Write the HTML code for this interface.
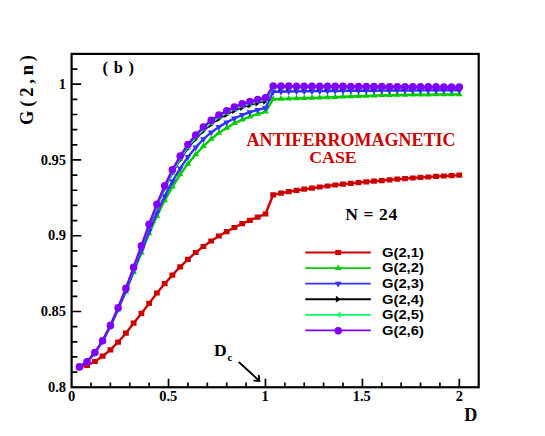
<!DOCTYPE html>
<html><head><meta charset="utf-8"><title>chart</title><style>html,body{margin:0;padding:0;background:#fff;font-family:"Liberation Sans",sans-serif;}svg{display:block;}</style></head><body>
<svg width="545" height="436" viewBox="0 0 545 436">
<rect x="0" y="0" width="545" height="436" fill="#fff"/>
<polyline points="79.4,367.2 87.1,365.4 94.9,361.5 102.6,356.2 110.4,349.9 118.1,342.2 125.9,333.2 133.6,323.2 141.4,313.4 149.1,303.4 156.9,293.0 164.7,283.7 172.4,275.1 180.2,266.8 187.9,259.4 195.7,252.5 203.4,246.5 211.2,241.0 218.9,236.0 226.7,231.6 234.4,227.5 242.2,223.7 249.9,220.4 257.7,217.1 265.5,214.0 273.2,194.8 281.0,193.1 288.7,191.7 296.5,190.4 304.2,189.2 312.0,188.2 319.7,187.0 327.5,186.0 335.2,185.0 343.0,184.2 350.8,183.4 358.5,182.6 366.3,181.8 374.0,181.2 381.8,180.6 389.5,179.8 397.3,179.2 405.0,178.6 412.8,178.0 420.5,177.4 428.3,177.0 436.1,176.4 443.8,176.0 451.6,175.6 459.3,175.2" fill="none" stroke="#cc0000" stroke-width="2.4" stroke-linejoin="round"/>
<path fill="#cc0000" d="M76.5,364.6h5.8v5.2h-5.8zM84.2,362.8h5.8v5.2h-5.8zM92.0,358.9h5.8v5.2h-5.8zM99.7,353.6h5.8v5.2h-5.8zM107.5,347.3h5.8v5.2h-5.8zM115.2,339.6h5.8v5.2h-5.8zM123.0,330.6h5.8v5.2h-5.8zM130.7,320.6h5.8v5.2h-5.8zM138.5,310.8h5.8v5.2h-5.8zM146.2,300.8h5.8v5.2h-5.8zM154.0,290.4h5.8v5.2h-5.8zM161.8,281.1h5.8v5.2h-5.8zM169.5,272.5h5.8v5.2h-5.8zM177.3,264.2h5.8v5.2h-5.8zM185.0,256.8h5.8v5.2h-5.8zM192.8,249.9h5.8v5.2h-5.8zM200.5,243.9h5.8v5.2h-5.8zM208.3,238.4h5.8v5.2h-5.8zM216.0,233.4h5.8v5.2h-5.8zM223.8,229.0h5.8v5.2h-5.8zM231.5,224.9h5.8v5.2h-5.8zM239.3,221.1h5.8v5.2h-5.8zM247.0,217.8h5.8v5.2h-5.8zM254.8,214.5h5.8v5.2h-5.8zM262.6,211.4h5.8v5.2h-5.8zM270.3,192.2h5.8v5.2h-5.8zM278.1,190.5h5.8v5.2h-5.8zM285.8,189.1h5.8v5.2h-5.8zM293.6,187.8h5.8v5.2h-5.8zM301.3,186.6h5.8v5.2h-5.8zM309.1,185.6h5.8v5.2h-5.8zM316.8,184.4h5.8v5.2h-5.8zM324.6,183.4h5.8v5.2h-5.8zM332.3,182.4h5.8v5.2h-5.8zM340.1,181.6h5.8v5.2h-5.8zM347.9,180.8h5.8v5.2h-5.8zM355.6,180.0h5.8v5.2h-5.8zM363.4,179.2h5.8v5.2h-5.8zM371.1,178.6h5.8v5.2h-5.8zM378.9,178.0h5.8v5.2h-5.8zM386.6,177.2h5.8v5.2h-5.8zM394.4,176.6h5.8v5.2h-5.8zM402.1,176.0h5.8v5.2h-5.8zM409.9,175.4h5.8v5.2h-5.8zM417.6,174.8h5.8v5.2h-5.8zM425.4,174.4h5.8v5.2h-5.8zM433.2,173.8h5.8v5.2h-5.8zM440.9,173.4h5.8v5.2h-5.8zM448.7,173.0h5.8v5.2h-5.8zM456.4,172.6h5.8v5.2h-5.8z"/>
<polyline points="79.4,366.9 87.1,361.8 94.9,352.6 102.6,341.2 110.4,326.4 118.1,309.8 125.9,291.8 133.6,272.1 141.4,252.8 149.1,233.5 156.9,216.2 164.7,200.3 172.4,186.8 180.2,174.5 187.9,163.8 195.7,154.5 203.4,146.2 211.2,139.0 218.9,132.8 226.7,127.9 234.4,123.3 242.2,119.6 249.9,116.6 257.7,114.0 265.5,111.8 273.2,99.1 281.0,98.9 288.7,98.6 296.5,98.4 304.2,98.2 312.0,97.9 319.7,97.7 327.5,97.4 335.2,97.1 343.0,96.8 350.8,96.5 358.5,96.2 366.3,95.9 374.0,95.6 381.8,95.3 389.5,95.2 397.3,95.0 405.0,94.9 412.8,94.8 420.5,94.7 428.3,94.6 436.1,94.5 443.8,94.5 451.6,94.5 459.3,94.4" fill="none" stroke="#00cc00" stroke-width="2.4" stroke-linejoin="round"/>
<path fill="#00cc00" d="M76.0,368.8h6.8l-3.4,-5.4zM83.7,363.6h6.8l-3.4,-5.4zM91.5,354.4h6.8l-3.4,-5.4zM99.2,343.0h6.8l-3.4,-5.4zM107.0,328.2h6.8l-3.4,-5.4zM114.7,311.6h6.8l-3.4,-5.4zM122.5,293.6h6.8l-3.4,-5.4zM130.2,273.9h6.8l-3.4,-5.4zM138.0,254.6h6.8l-3.4,-5.4zM145.7,235.3h6.8l-3.4,-5.4zM153.5,218.1h6.8l-3.4,-5.4zM161.3,202.2h6.8l-3.4,-5.4zM169.0,188.6h6.8l-3.4,-5.4zM176.8,176.3h6.8l-3.4,-5.4zM184.5,165.7h6.8l-3.4,-5.4zM192.3,156.3h6.8l-3.4,-5.4zM200.0,148.0h6.8l-3.4,-5.4zM207.8,140.8h6.8l-3.4,-5.4zM215.5,134.7h6.8l-3.4,-5.4zM223.3,129.7h6.8l-3.4,-5.4zM231.0,125.1h6.8l-3.4,-5.4zM238.8,121.4h6.8l-3.4,-5.4zM246.5,118.4h6.8l-3.4,-5.4zM254.3,115.8h6.8l-3.4,-5.4zM262.1,113.5h6.8l-3.4,-5.4zM269.8,100.9h6.8l-3.4,-5.4zM277.6,100.7h6.8l-3.4,-5.4zM285.3,100.4h6.8l-3.4,-5.4zM293.1,100.2h6.8l-3.4,-5.4zM300.8,100.0h6.8l-3.4,-5.4zM308.6,99.7h6.8l-3.4,-5.4zM316.3,99.5h6.8l-3.4,-5.4zM324.1,99.2h6.8l-3.4,-5.4zM331.8,98.9h6.8l-3.4,-5.4zM339.6,98.6h6.8l-3.4,-5.4zM347.4,98.3h6.8l-3.4,-5.4zM355.1,98.0h6.8l-3.4,-5.4zM362.9,97.7h6.8l-3.4,-5.4zM370.6,97.4h6.8l-3.4,-5.4zM378.4,97.1h6.8l-3.4,-5.4zM386.1,97.0h6.8l-3.4,-5.4zM393.9,96.8h6.8l-3.4,-5.4zM401.6,96.7h6.8l-3.4,-5.4zM409.4,96.6h6.8l-3.4,-5.4zM417.1,96.5h6.8l-3.4,-5.4zM424.9,96.4h6.8l-3.4,-5.4zM432.7,96.3h6.8l-3.4,-5.4zM440.4,96.3h6.8l-3.4,-5.4zM448.2,96.2h6.8l-3.4,-5.4zM455.9,96.2h6.8l-3.4,-5.4z"/>
<polyline points="79.4,366.9 87.1,361.8 94.9,352.6 102.6,341.0 110.4,326.1 118.1,309.1 125.9,290.8 133.6,270.8 141.4,250.8 149.1,231.2 156.9,213.0 164.7,196.2 172.4,181.4 180.2,168.3 187.9,156.9 195.7,147.4 203.4,139.2 211.2,132.4 218.9,126.9 226.7,122.4 234.4,118.4 242.2,115.0 249.9,112.2 257.7,109.9 265.5,108.0 273.2,91.8 281.0,91.7 288.7,91.5 296.5,91.4 304.2,91.3 312.0,91.2 319.7,91.1 327.5,91.0 335.2,91.0 343.0,90.9 350.8,90.8 358.5,90.8 366.3,90.7 374.0,90.7 381.8,90.6 389.5,90.6 397.3,90.5 405.0,90.5 412.8,90.5 420.5,90.4 428.3,90.4 436.1,90.4 443.8,90.3 451.6,90.3 459.3,90.3" fill="none" stroke="#3333ff" stroke-width="2.4" stroke-linejoin="round"/>
<path fill="#3333ff" d="M76.0,365.1h6.8l-3.4,5.7zM83.7,359.9h6.8l-3.4,5.7zM91.5,350.7h6.8l-3.4,5.7zM99.2,339.1h6.8l-3.4,5.7zM107.0,324.2h6.8l-3.4,5.7zM114.7,307.2h6.8l-3.4,5.7zM122.5,288.9h6.8l-3.4,5.7zM130.2,268.9h6.8l-3.4,5.7zM138.0,248.8h6.8l-3.4,5.7zM145.7,229.2h6.8l-3.4,5.7zM153.5,211.1h6.8l-3.4,5.7zM161.3,194.2h6.8l-3.4,5.7zM169.0,179.5h6.8l-3.4,5.7zM176.8,166.4h6.8l-3.4,5.7zM184.5,155.0h6.8l-3.4,5.7zM192.3,145.5h6.8l-3.4,5.7zM200.0,137.3h6.8l-3.4,5.7zM207.8,130.5h6.8l-3.4,5.7zM215.5,125.0h6.8l-3.4,5.7zM223.3,120.5h6.8l-3.4,5.7zM231.0,116.5h6.8l-3.4,5.7zM238.8,113.0h6.8l-3.4,5.7zM246.5,110.3h6.8l-3.4,5.7zM254.3,108.0h6.8l-3.4,5.7zM262.1,106.0h6.8l-3.4,5.7zM269.8,89.9h6.8l-3.4,5.7zM277.6,89.8h6.8l-3.4,5.7zM285.3,89.6h6.8l-3.4,5.7zM293.1,89.5h6.8l-3.4,5.7zM300.8,89.4h6.8l-3.4,5.7zM308.6,89.3h6.8l-3.4,5.7zM316.3,89.2h6.8l-3.4,5.7zM324.1,89.1h6.8l-3.4,5.7zM331.8,89.1h6.8l-3.4,5.7zM339.6,89.0h6.8l-3.4,5.7zM347.4,88.9h6.8l-3.4,5.7zM355.1,88.9h6.8l-3.4,5.7zM362.9,88.8h6.8l-3.4,5.7zM370.6,88.8h6.8l-3.4,5.7zM378.4,88.7h6.8l-3.4,5.7zM386.1,88.7h6.8l-3.4,5.7zM393.9,88.6h6.8l-3.4,5.7zM401.6,88.6h6.8l-3.4,5.7zM409.4,88.6h6.8l-3.4,5.7zM417.1,88.5h6.8l-3.4,5.7zM424.9,88.5h6.8l-3.4,5.7zM432.7,88.5h6.8l-3.4,5.7zM440.4,88.4h6.8l-3.4,5.7zM448.2,88.4h6.8l-3.4,5.7zM455.9,88.4h6.8l-3.4,5.7z"/>
<polyline points="79.4,366.9 87.1,361.8 94.9,352.6 102.6,341.0 110.4,325.7 118.1,308.2 125.9,289.2 133.6,268.5 141.4,247.4 149.1,226.5 156.9,207.0 164.7,189.0 172.4,173.3 180.2,159.9 187.9,148.5 195.7,139.3 203.4,131.2 211.2,124.5 218.9,118.9 226.7,114.5 234.4,110.7 242.2,107.5 249.9,105.2 257.7,103.0 265.5,101.3 273.2,87.5 281.0,87.5 288.7,87.5 296.5,87.5 304.2,87.5 312.0,87.5 319.7,87.5 327.5,87.6 335.2,87.6 343.0,87.6 350.8,87.6 358.5,87.6 366.3,87.7 374.0,87.7 381.8,87.7 389.5,87.7 397.3,87.7 405.0,87.7 412.8,87.8 420.5,87.8 428.3,87.8 436.1,87.8 443.8,87.8 451.6,87.8 459.3,87.9" fill="none" stroke="#000000" stroke-width="1.5" stroke-linejoin="round"/>
<path fill="#000000" d="M77.1,363.6v6.8l5.1,-3.4zM84.8,358.4v6.8l5.1,-3.4zM92.6,349.2v6.8l5.1,-3.4zM100.3,337.6v6.8l5.1,-3.4zM108.1,322.3v6.8l5.1,-3.4zM115.8,304.8v6.8l5.1,-3.4zM123.6,285.8v6.8l5.1,-3.4zM131.3,265.1v6.8l5.1,-3.4zM139.1,244.0v6.8l5.1,-3.4zM146.8,223.1v6.8l5.1,-3.4zM154.6,203.6v6.8l5.1,-3.4zM162.4,185.6v6.8l5.1,-3.4zM170.1,169.9v6.8l5.1,-3.4zM177.9,156.5v6.8l5.1,-3.4zM185.6,145.1v6.8l5.1,-3.4zM193.4,135.9v6.8l5.1,-3.4zM201.1,127.8v6.8l5.1,-3.4zM208.9,121.1v6.8l5.1,-3.4zM216.6,115.5v6.8l5.1,-3.4zM224.4,111.1v6.8l5.1,-3.4zM232.1,107.3v6.8l5.1,-3.4zM239.9,104.1v6.8l5.1,-3.4zM247.6,101.8v6.8l5.1,-3.4zM255.4,99.6v6.8l5.1,-3.4zM263.2,97.9v6.8l5.1,-3.4zM270.9,84.0v6.8l5.1,-3.4zM278.7,84.1v6.8l5.1,-3.4zM286.4,84.1v6.8l5.1,-3.4zM294.2,84.1v6.8l5.1,-3.4zM301.9,84.1v6.8l5.1,-3.4zM309.7,84.1v6.8l5.1,-3.4zM317.4,84.1v6.8l5.1,-3.4zM325.2,84.2v6.8l5.1,-3.4zM332.9,84.2v6.8l5.1,-3.4zM340.7,84.2v6.8l5.1,-3.4zM348.5,84.2v6.8l5.1,-3.4zM356.2,84.2v6.8l5.1,-3.4zM364.0,84.2v6.8l5.1,-3.4zM371.7,84.3v6.8l5.1,-3.4zM379.5,84.3v6.8l5.1,-3.4zM387.2,84.3v6.8l5.1,-3.4zM395.0,84.3v6.8l5.1,-3.4zM402.7,84.3v6.8l5.1,-3.4zM410.5,84.3v6.8l5.1,-3.4zM418.2,84.4v6.8l5.1,-3.4zM426.0,84.4v6.8l5.1,-3.4zM433.8,84.4v6.8l5.1,-3.4zM441.5,84.4v6.8l5.1,-3.4zM449.3,84.4v6.8l5.1,-3.4zM457.0,84.5v6.8l5.1,-3.4z"/>
<polyline points="79.4,366.9 87.1,361.8 94.9,352.6 102.6,340.8 110.4,325.6 118.1,307.9 125.9,288.8 133.6,267.9 141.4,246.6 149.1,225.3 156.9,205.7 164.7,187.3 172.4,171.7 180.2,158.1 187.9,146.7 195.7,137.3 203.4,129.2 211.2,122.6 218.9,117.0 226.7,112.8 234.4,109.0 242.2,105.9 249.9,103.5 257.7,101.4 265.5,99.7 273.2,86.8 281.0,86.8 288.7,86.8 296.5,86.8 304.2,86.9 312.0,86.9 319.7,86.9 327.5,87.0 335.2,87.0 343.0,87.0 350.8,87.0 358.5,87.1 366.3,87.1 374.0,87.1 381.8,87.2 389.5,87.2 397.3,87.2 405.0,87.2 412.8,87.3 420.5,87.3 428.3,87.3 436.1,87.4 443.8,87.4 451.6,87.4 459.3,87.5" fill="none" stroke="#00ff66" stroke-width="2.4" stroke-linejoin="round"/>
<path fill="#00ff66" d="M81.8,363.8v6.4l-4.9,-3.2zM89.5,358.6v6.4l-4.9,-3.2zM97.3,349.4v6.4l-4.9,-3.2zM105.0,337.6v6.4l-4.9,-3.2zM112.8,322.4v6.4l-4.9,-3.2zM120.5,304.8v6.4l-4.9,-3.2zM128.3,285.6v6.4l-4.9,-3.2zM136.0,264.8v6.4l-4.9,-3.2zM143.8,243.4v6.4l-4.9,-3.2zM151.5,222.2v6.4l-4.9,-3.2zM159.3,202.5v6.4l-4.9,-3.2zM167.1,184.2v6.4l-4.9,-3.2zM174.8,168.5v6.4l-4.9,-3.2zM182.6,154.9v6.4l-4.9,-3.2zM190.3,143.5v6.4l-4.9,-3.2zM198.1,134.1v6.4l-4.9,-3.2zM205.8,126.0v6.4l-4.9,-3.2zM213.6,119.4v6.4l-4.9,-3.2zM221.3,113.8v6.4l-4.9,-3.2zM229.1,109.5v6.4l-4.9,-3.2zM236.8,105.8v6.4l-4.9,-3.2zM244.6,102.7v6.4l-4.9,-3.2zM252.3,100.2v6.4l-4.9,-3.2zM260.1,98.2v6.4l-4.9,-3.2zM267.9,96.5v6.4l-4.9,-3.2zM275.6,83.5v6.4l-4.9,-3.2zM283.4,83.6v6.4l-4.9,-3.2zM291.1,83.6v6.4l-4.9,-3.2zM298.9,83.6v6.4l-4.9,-3.2zM306.6,83.7v6.4l-4.9,-3.2zM314.4,83.7v6.4l-4.9,-3.2zM322.1,83.7v6.4l-4.9,-3.2zM329.9,83.8v6.4l-4.9,-3.2zM337.6,83.8v6.4l-4.9,-3.2zM345.4,83.8v6.4l-4.9,-3.2zM353.2,83.8v6.4l-4.9,-3.2zM360.9,83.9v6.4l-4.9,-3.2zM368.7,83.9v6.4l-4.9,-3.2zM376.4,83.9v6.4l-4.9,-3.2zM384.2,84.0v6.4l-4.9,-3.2zM391.9,84.0v6.4l-4.9,-3.2zM399.7,84.0v6.4l-4.9,-3.2zM407.4,84.0v6.4l-4.9,-3.2zM415.2,84.1v6.4l-4.9,-3.2zM422.9,84.1v6.4l-4.9,-3.2zM430.7,84.1v6.4l-4.9,-3.2zM438.5,84.2v6.4l-4.9,-3.2zM446.2,84.2v6.4l-4.9,-3.2zM454.0,84.2v6.4l-4.9,-3.2zM461.7,84.2v6.4l-4.9,-3.2z"/>
<polyline points="79.4,366.9 87.1,361.8 94.9,352.6 102.6,340.8 110.4,325.4 118.1,307.8 125.9,288.4 133.6,267.3 141.4,245.8 149.1,224.3 156.9,204.3 164.7,185.8 172.4,169.8 180.2,156.0 187.9,144.5 195.7,135.1 203.4,127.0 211.2,120.4 218.9,115.0 226.7,110.7 234.4,107.0 242.2,103.9 249.9,101.5 257.7,99.5 265.5,97.8 273.2,86.0 281.0,86.1 288.7,86.1 296.5,86.2 304.2,86.2 312.0,86.3 319.7,86.3 327.5,86.3 335.2,86.4 343.0,86.4 350.8,86.5 358.5,86.5 366.3,86.5 374.0,86.6 381.8,86.6 389.5,86.7 397.3,86.7 405.0,86.8 412.8,86.8 420.5,86.8 428.3,86.9 436.1,86.9 443.8,87.0 451.6,87.0 459.3,87.0" fill="none" stroke="#8000ff" stroke-width="2.4" stroke-linejoin="round"/>
<path fill="#8000ff" d="M75.6,366.9a3.8,3.8 0 1,0 7.6,0a3.8,3.8 0 1,0 -7.6,0zM83.3,361.8a3.8,3.8 0 1,0 7.6,0a3.8,3.8 0 1,0 -7.6,0zM91.1,352.6a3.8,3.8 0 1,0 7.6,0a3.8,3.8 0 1,0 -7.6,0zM98.8,340.8a3.8,3.8 0 1,0 7.6,0a3.8,3.8 0 1,0 -7.6,0zM106.6,325.4a3.8,3.8 0 1,0 7.6,0a3.8,3.8 0 1,0 -7.6,0zM114.3,307.8a3.8,3.8 0 1,0 7.6,0a3.8,3.8 0 1,0 -7.6,0zM122.1,288.4a3.8,3.8 0 1,0 7.6,0a3.8,3.8 0 1,0 -7.6,0zM129.8,267.3a3.8,3.8 0 1,0 7.6,0a3.8,3.8 0 1,0 -7.6,0zM137.6,245.8a3.8,3.8 0 1,0 7.6,0a3.8,3.8 0 1,0 -7.6,0zM145.3,224.3a3.8,3.8 0 1,0 7.6,0a3.8,3.8 0 1,0 -7.6,0zM153.1,204.3a3.8,3.8 0 1,0 7.6,0a3.8,3.8 0 1,0 -7.6,0zM160.9,185.8a3.8,3.8 0 1,0 7.6,0a3.8,3.8 0 1,0 -7.6,0zM168.6,169.8a3.8,3.8 0 1,0 7.6,0a3.8,3.8 0 1,0 -7.6,0zM176.4,156.0a3.8,3.8 0 1,0 7.6,0a3.8,3.8 0 1,0 -7.6,0zM184.1,144.5a3.8,3.8 0 1,0 7.6,0a3.8,3.8 0 1,0 -7.6,0zM191.9,135.1a3.8,3.8 0 1,0 7.6,0a3.8,3.8 0 1,0 -7.6,0zM199.6,127.0a3.8,3.8 0 1,0 7.6,0a3.8,3.8 0 1,0 -7.6,0zM207.4,120.4a3.8,3.8 0 1,0 7.6,0a3.8,3.8 0 1,0 -7.6,0zM215.1,115.0a3.8,3.8 0 1,0 7.6,0a3.8,3.8 0 1,0 -7.6,0zM222.9,110.7a3.8,3.8 0 1,0 7.6,0a3.8,3.8 0 1,0 -7.6,0zM230.6,107.0a3.8,3.8 0 1,0 7.6,0a3.8,3.8 0 1,0 -7.6,0zM238.4,103.9a3.8,3.8 0 1,0 7.6,0a3.8,3.8 0 1,0 -7.6,0zM246.1,101.5a3.8,3.8 0 1,0 7.6,0a3.8,3.8 0 1,0 -7.6,0zM253.9,99.5a3.8,3.8 0 1,0 7.6,0a3.8,3.8 0 1,0 -7.6,0zM261.7,97.8a3.8,3.8 0 1,0 7.6,0a3.8,3.8 0 1,0 -7.6,0zM269.4,86.0a3.8,3.8 0 1,0 7.6,0a3.8,3.8 0 1,0 -7.6,0zM277.2,86.1a3.8,3.8 0 1,0 7.6,0a3.8,3.8 0 1,0 -7.6,0zM284.9,86.1a3.8,3.8 0 1,0 7.6,0a3.8,3.8 0 1,0 -7.6,0zM292.7,86.2a3.8,3.8 0 1,0 7.6,0a3.8,3.8 0 1,0 -7.6,0zM300.4,86.2a3.8,3.8 0 1,0 7.6,0a3.8,3.8 0 1,0 -7.6,0zM308.2,86.3a3.8,3.8 0 1,0 7.6,0a3.8,3.8 0 1,0 -7.6,0zM315.9,86.3a3.8,3.8 0 1,0 7.6,0a3.8,3.8 0 1,0 -7.6,0zM323.7,86.3a3.8,3.8 0 1,0 7.6,0a3.8,3.8 0 1,0 -7.6,0zM331.4,86.4a3.8,3.8 0 1,0 7.6,0a3.8,3.8 0 1,0 -7.6,0zM339.2,86.4a3.8,3.8 0 1,0 7.6,0a3.8,3.8 0 1,0 -7.6,0zM347.0,86.5a3.8,3.8 0 1,0 7.6,0a3.8,3.8 0 1,0 -7.6,0zM354.7,86.5a3.8,3.8 0 1,0 7.6,0a3.8,3.8 0 1,0 -7.6,0zM362.5,86.5a3.8,3.8 0 1,0 7.6,0a3.8,3.8 0 1,0 -7.6,0zM370.2,86.6a3.8,3.8 0 1,0 7.6,0a3.8,3.8 0 1,0 -7.6,0zM378.0,86.6a3.8,3.8 0 1,0 7.6,0a3.8,3.8 0 1,0 -7.6,0zM385.7,86.7a3.8,3.8 0 1,0 7.6,0a3.8,3.8 0 1,0 -7.6,0zM393.5,86.7a3.8,3.8 0 1,0 7.6,0a3.8,3.8 0 1,0 -7.6,0zM401.2,86.8a3.8,3.8 0 1,0 7.6,0a3.8,3.8 0 1,0 -7.6,0zM409.0,86.8a3.8,3.8 0 1,0 7.6,0a3.8,3.8 0 1,0 -7.6,0zM416.7,86.8a3.8,3.8 0 1,0 7.6,0a3.8,3.8 0 1,0 -7.6,0zM424.5,86.9a3.8,3.8 0 1,0 7.6,0a3.8,3.8 0 1,0 -7.6,0zM432.3,86.9a3.8,3.8 0 1,0 7.6,0a3.8,3.8 0 1,0 -7.6,0zM440.0,87.0a3.8,3.8 0 1,0 7.6,0a3.8,3.8 0 1,0 -7.6,0zM447.8,87.0a3.8,3.8 0 1,0 7.6,0a3.8,3.8 0 1,0 -7.6,0zM455.5,87.0a3.8,3.8 0 1,0 7.6,0a3.8,3.8 0 1,0 -7.6,0z"/>
<rect x="71.6" y="53.9" width="407.10" height="333.35" fill="none" stroke="#000" stroke-width="2.2"/>
<path d="M71.6,372.10h5.8M71.6,356.95h5.8M71.6,341.79h5.8M71.6,326.64h5.8M71.6,311.49h9.6M71.6,296.34h5.8M71.6,281.18h5.8M71.6,266.03h5.8M71.6,250.88h5.8M71.6,235.73h9.6M71.6,220.58h5.8M71.6,205.42h5.8M71.6,190.27h5.8M71.6,175.12h5.8M71.6,159.97h9.6M71.6,144.81h5.8M71.6,129.66h5.8M71.6,114.51h5.8M71.6,99.36h5.8M71.6,84.20h9.6M71.6,69.05h5.8M90.99,387.25v-4.8M110.37,387.25v-4.8M129.76,387.25v-4.8M149.14,387.25v-4.8M168.53,387.25v-8.6M187.91,387.25v-4.8M207.30,387.25v-4.8M226.69,387.25v-4.8M246.07,387.25v-4.8M265.46,387.25v-8.6M284.84,387.25v-4.8M304.23,387.25v-4.8M323.61,387.25v-4.8M343.00,387.25v-4.8M362.39,387.25v-8.6M381.77,387.25v-4.8M401.16,387.25v-4.8M420.54,387.25v-4.8M439.93,387.25v-4.8M459.31,387.25v-8.6" stroke="#000" stroke-width="1.7" fill="none"/>
<path d="M239.3,362.5L259.2,380.7M254.3,380.6L259.4,380.9L258.8,375.6" stroke="#000" stroke-width="1.9" fill="none" stroke-linecap="round"/>
<path d="M305.3,252.50H370.8" stroke="#cc0000" stroke-width="1.8" fill="none"/>
<path fill="#cc0000" d="M335.3,249.9h5.8v5.2h-5.8z"/>
<path d="M305.3,268.08H370.8" stroke="#00cc00" stroke-width="1.8" fill="none"/>
<path fill="#00cc00" d="M334.8,269.9h6.8l-3.4,-5.4z"/>
<path d="M305.3,283.66H370.8" stroke="#3333ff" stroke-width="1.8" fill="none"/>
<path fill="#3333ff" d="M334.8,281.8h6.8l-3.4,5.7z"/>
<path d="M305.3,299.24H370.8" stroke="#000000" stroke-width="1.8" fill="none"/>
<path fill="#000000" d="M335.9,295.8v6.8l5.1,-3.4z"/>
<path d="M305.3,314.82H370.8" stroke="#00ff66" stroke-width="1.8" fill="none"/>
<path fill="#00ff66" d="M340.6,311.6v6.4l-4.9,-3.2z"/>
<path d="M305.3,330.40H370.8" stroke="#8000ff" stroke-width="1.8" fill="none"/>
<path fill="#8000ff" d="M334.4,330.7a3.8,3.8 0 1,0 7.6,0a3.8,3.8 0 1,0 -7.6,0z"/>
<g fill="#000" font-weight="bold" font-family="'Liberation Serif', serif">
<text x="66" y="88.95" font-size="14.5" text-anchor="end">1</text>
<text x="66" y="164.71" font-size="14.5" text-anchor="end">0.95</text>
<text x="66" y="240.47" font-size="14.5" text-anchor="end">0.9</text>
<text x="66" y="316.23" font-size="14.5" text-anchor="end">0.85</text>
<text x="66" y="392" font-size="14.5" text-anchor="end">0.8</text>
<text x="68" y="401.23" font-size="14.5">0</text>
<text x="159.2" y="401.23" font-size="14.5">0.5</text>
<text x="261.6" y="401.23" font-size="14.5">1</text>
<text x="352.7" y="401.23" font-size="14.5">1.5</text>
<text x="455.7" y="401.23" font-size="14.5">2</text>
<text x="102.5" y="72.6" font-size="16.5" textLength="31.5" lengthAdjust="spacing">( b )</text>
<text x="464.3" y="420.72" font-size="18">D</text>
<text x="246.6" y="146.43" font-size="17.8" fill="#cc0000" textLength="209" lengthAdjust="spacingAndGlyphs">ANTIFERROMAGNETIC</text>
<text x="309.2" y="162.63" font-size="17.6" fill="#cc0000" textLength="47.5" lengthAdjust="spacingAndGlyphs">CASE</text>
<text x="345.2" y="219.9" font-size="17.6" textLength="52" lengthAdjust="spacing">N = 24</text>
<text x="213.9" y="356.07" font-size="17.6">D</text>
<text x="227.4" y="361.01" font-size="10.8">c</text>
<text transform="translate(33.36,125.78) rotate(-90)" x="0.8" y="0" font-size="18.5" textLength="70" lengthAdjust="spacing">G ( 2 , n )</text>
</g>
<g fill="#000" font-weight="bold" font-family="'Liberation Sans', sans-serif" font-size="13.6">
<text x="382" y="256.87" textLength="41.8" lengthAdjust="spacingAndGlyphs">G(2,1)</text>
<text x="382" y="272.45" textLength="41.8" lengthAdjust="spacingAndGlyphs">G(2,2)</text>
<text x="382" y="288.03" textLength="41.8" lengthAdjust="spacingAndGlyphs">G(2,3)</text>
<text x="382" y="303.61" textLength="41.8" lengthAdjust="spacingAndGlyphs">G(2,4)</text>
<text x="382" y="319.19" textLength="41.8" lengthAdjust="spacingAndGlyphs">G(2,5)</text>
<text x="382" y="334.77" textLength="41.8" lengthAdjust="spacingAndGlyphs">G(2,6)</text>
</g>
</svg>
</body></html>
